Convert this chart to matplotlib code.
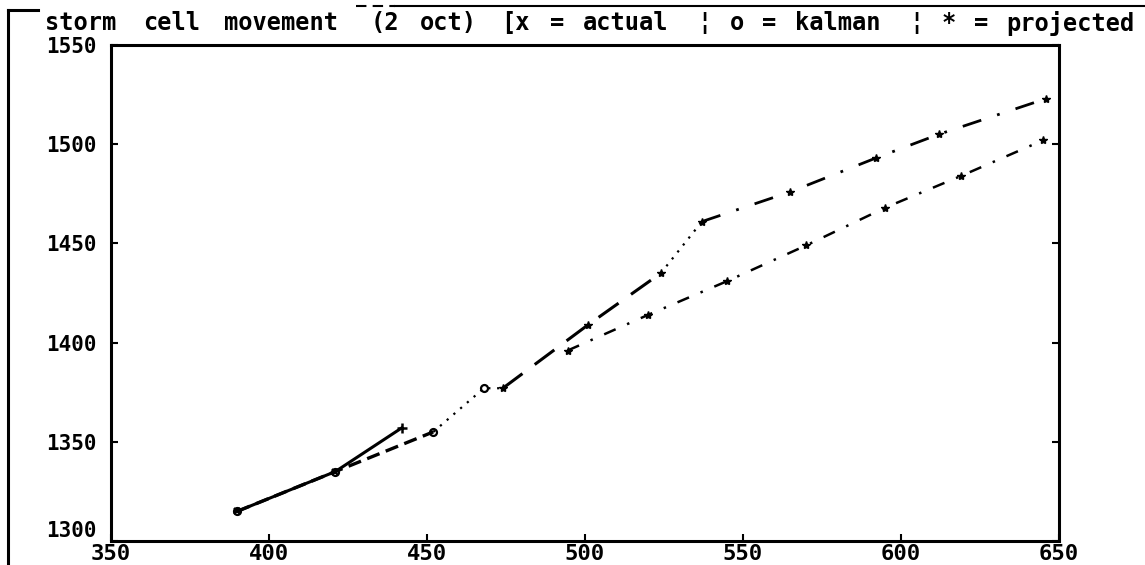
import matplotlib
matplotlib.use("Agg")
import matplotlib.pyplot as plt
from matplotlib.lines import Line2D

# ---------------- data ----------------
title = "storm cell movement (2 oct) [x = actual \u00a6 o = kalman \u00a6 * = projected"
x_ticks = [350, 400, 450, 500, 550, 600, 650]
y_ticks = [1300, 1350, 1400, 1450, 1500, 1550]

# actual track (x)
actual_x = [390, 421]
actual_y = [1315, 1335]
# kalman filtered track (o)
kalman_x = [390, 421, 452, 468, 474]
kalman_y = [1315, 1335, 1355, 1377, 1377]
# short projection
proj1_x = [421, 442]
proj1_y = [1335, 1357]
# upper projected track (*)
proj2_x = [474, 501, 524, 537, 565, 592, 612, 646]
proj2_y = [1377, 1409, 1435, 1461, 1476, 1493, 1505, 1523]
# lower projected track (*)
proj3_x = [494.5, 520, 545, 570, 595, 619, 645]
proj3_y = [1396, 1414, 1431, 1449, 1468, 1484, 1502]

# ---------------- figure ----------------
W, H = 1145, 565
fig = plt.figure(figsize=(W / 100, H / 100), dpi=100)
ax = fig.add_axes([111 / W, 1 - 541 / H, (1059 - 111) / W, (541 - 45) / H])

font = {"family": "DejaVu Sans Mono", "weight": "bold"}
k = "black"

# actual track
ax.plot(actual_x, actual_y, color=k, lw=2.2, ls="-", marker="x", ms=5, mew=1.6)
# kalman track: dashed then dotted
ax.plot(kalman_x[:3], kalman_y[:3], color=k, lw=2.4, ls=(0, (4, 2)))
ax.plot(kalman_x[2:], kalman_y[2:], color=k, lw=1.6, ls=(0, (1, 3)))
ax.plot(kalman_x[:4], kalman_y[:4], ls="none", marker="o", ms=5, mfc="none",
        mec=k, mew=1.6)
# short projection
ax.plot(proj1_x, proj1_y, color=k, lw=2.2, ls="-", marker="+", ms=7, mew=1.8,
        markevery=[1])
# upper projected track
ax.plot(proj2_x[:3], proj2_y[:3], color=k, lw=2.2, ls=(0, (8, 5)))
ax.plot(proj2_x[2:4], proj2_y[2:4], color=k, lw=1.6, ls=(0, (1, 3)))
ax.plot(proj2_x[3:], proj2_y[3:], color=k, lw=2.0, ls=(0, (7, 6, 1, 6)))
ax.plot(proj2_x, proj2_y, ls="none", marker="*", ms=6, color=k)
# lower projected track
ax.plot(proj3_x, proj3_y, color=k, lw=1.8, ls=(0, (5, 5, 1, 5)))
ax.plot(proj3_x, proj3_y, ls="none", marker="*", ms=6, color=k)

ax.set_xlim(x_ticks[0], x_ticks[-1])
ax.set_ylim(y_ticks[0], y_ticks[-1])
ax.set_xticks(x_ticks)
ax.set_yticks(y_ticks)
ax.set_xticklabels([str(v) for v in x_ticks], fontdict=font, fontsize=16)
ylabels = ax.set_yticklabels([str(v) for v in y_ticks], fontdict=font,
                             fontsize=15)
ylabels[0].set_va("bottom")
ax.tick_params(axis="both", direction="in", length=5, width=1.5,
               right=True, top=False, labelright=False)
ax.tick_params(axis="y", pad=10)
ax.tick_params(axis="x", pad=2)
for s in ax.spines.values():
    s.set_linewidth(2.2)
    s.set_color(k)

# title laid out on the wide monospace grid of the original plotter font
x0, adv = 45, 16.3
pos = 0
for word in title.split(" "):
    fig.text((x0 + pos * adv) / W, 1 - 23 / H, word, ha="left", va="center",
             fontsize=17, **font)
    pos += len(word) + 1

# scanned frame decoration
fig.add_artist(Line2D([8 / W, 8 / W], [1 - 10 / H, 0], color=k, lw=2.2,
                      transform=fig.transFigure))
fig.add_artist(Line2D([8 / W, 38 / W], [1 - 10 / H, 1 - 10 / H], color=k,
                      lw=2.2, transform=fig.transFigure))
fig.add_artist(Line2D([356 / W, 395 / W], [1 - 6 / H, 1 - 6 / H], color=k,
                      lw=1.5, ls=(0, (5, 3)), transform=fig.transFigure))
fig.add_artist(Line2D([395 / W, 1 - 1e-3], [1 - 6 / H, 1 - 6 / H], color=k,
                      lw=1.5, transform=fig.transFigure))

fig.savefig("out.png", dpi=100, facecolor="white")
